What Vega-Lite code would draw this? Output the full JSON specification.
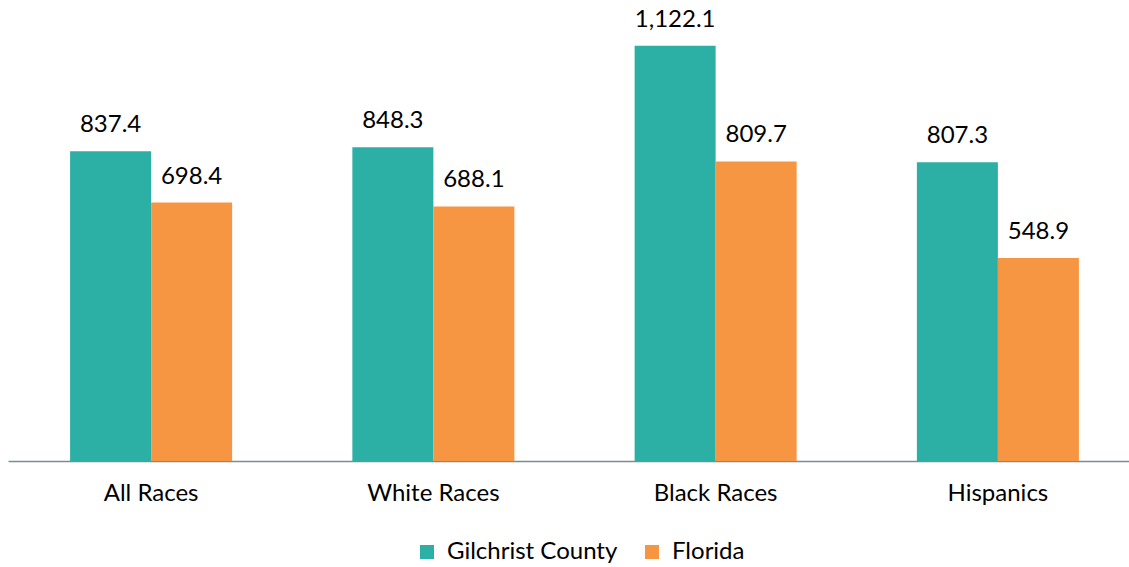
{
  "$schema": "https://vega.github.io/schema/vega-lite/v6.json",
  "autosize": {"type": "none"},
  "width": 1133,
  "height": 461,
  "padding": {"left": 8, "top": 0, "right": 0, "bottom": 106},
  "background": "white",
  "config": {
    "view": {"stroke": null},
    "font": "Lato",
    "text": {"font": "Lato"}
  },
  "data": {
    "values": [
      {"group": "All Races", "series": "Gilchrist County", "value": 837.4, "label": "837.4"},
      {"group": "All Races", "series": "Florida", "value": 698.4, "label": "698.4"},
      {"group": "White Races", "series": "Gilchrist County", "value": 848.3, "label": "848.3"},
      {"group": "White Races", "series": "Florida", "value": 688.1, "label": "688.1"},
      {"group": "Black Races", "series": "Gilchrist County", "value": 1122.1, "label": "1,122.1"},
      {"group": "Black Races", "series": "Florida", "value": 809.7, "label": "809.7"},
      {"group": "Hispanics", "series": "Gilchrist County", "value": 807.3, "label": "807.3"},
      {"group": "Hispanics", "series": "Florida", "value": 548.9, "label": "548.9"}
    ]
  },
  "encoding": {
    "x": {
      "field": "group", "type": "nominal", "sort": null,
      "scale": {"paddingInner": 0.426, "paddingOuter": 0.22},
      "axis": {"title": null, "labelAngle": 0, "labelFontSize": 24, "labelColor": "#000000", "labelFont": "Lato", "ticks": false, "domainColor": "#7f8c8d", "domainWidth": 1.5, "labelPadding": 20}
    },
    "xOffset": {"field": "series", "type": "nominal", "sort": ["Gilchrist County", "Florida"], "scale": {"paddingInner": 0, "paddingOuter": 0}},
    "y": {"field": "value", "type": "quantitative", "scale": {"domain": [0, 1246], "nice": false}, "axis": null}
  },
  "layer": [
    {
      "mark": {"type": "bar"},
      "encoding": {
        "color": {
          "field": "series", "type": "nominal", "sort": ["Gilchrist County", "Florida"],
          "scale": {"domain": ["Gilchrist County", "Florida"], "range": ["#2cafa4", "#f79642"]},
          "legend": {"title": null, "orient": "none", "legendX": 407, "legendY": 540, "direction": "horizontal", "symbolType": "square", "symbolSize": 196, "labelFontSize": 24, "labelFont": "Lato", "labelColor": "#000000", "labelOffset": 8, "labelLimit": 400, "columnPadding": 22, "symbolStrokeWidth": 0}
        }
      }
    },
    {
      "mark": {"type": "text", "baseline": "alphabetic", "dy": -19, "fontSize": 24, "color": "#000000"},
      "encoding": {"text": {"field": "label"}}
    }
  ]
}
